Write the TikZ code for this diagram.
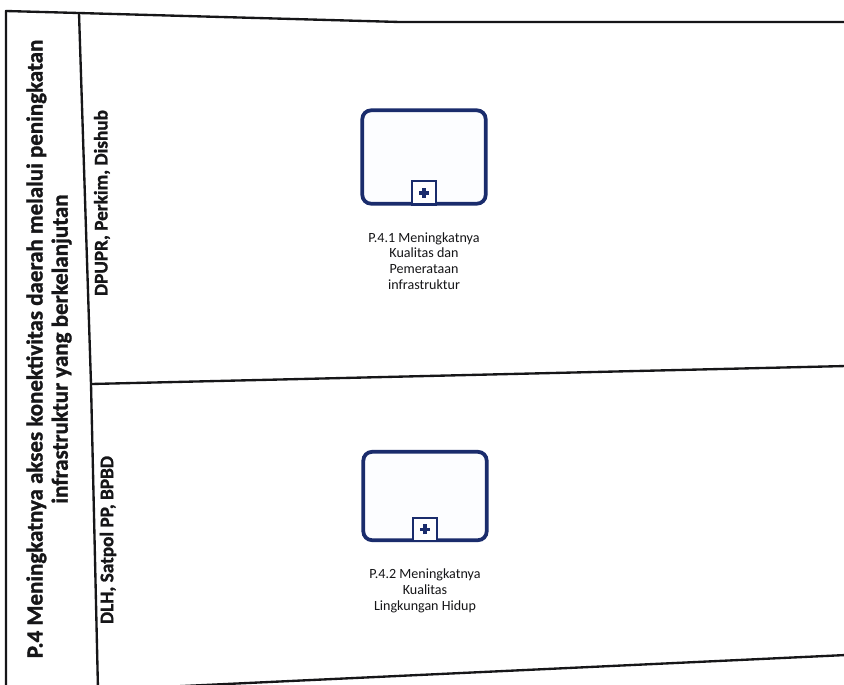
\documentclass[tikz,border=0pt]{standalone}
\usepackage{fontspec}
\setmainfont{Carlito}[BoldFeatures={FakeBold=1.2}]
\usepackage{tikz}
\usetikzlibrary{positioning}
\definecolor{ink}{RGB}{22,22,24}
\definecolor{taskdraw}{RGB}{26,44,108}
\definecolor{taskbg}{RGB}{252,253,255}
\newcommand{\TitleFont}{\fontsize{19.6}{21.5}\selectfont}
\newcommand{\LaneFont}{\fontsize{16.4}{18}\selectfont}
\newcommand{\TaskFont}{\fontsize{12}{13.4}\selectfont}
\tikzset{
  poolline/.style={draw=ink, line width=2pt, line join=round},
  pooltitle/.style={rotate=90, align=center, font=\bfseries\TitleFont, text=ink, inner sep=0pt},
  lanelabel/.style={rotate=90, font=\bfseries\LaneFont, text=ink, inner sep=0pt},
  subproc/.style={rectangle, rounded corners=2.6mm, draw=taskdraw, fill=taskbg, line width=3.2pt, minimum width=37mm, minimum height=28mm},
  plusmark/.style={rectangle, draw=taskdraw, fill=white, line width=1.8pt, minimum size=7mm, inner sep=0pt,
    path picture={\draw[taskdraw, line width=3pt] (path picture bounding box.center) ++(-1.5mm,0) -- ++(3mm,0);
      \draw[taskdraw, line width=3pt] (path picture bounding box.center) ++(0,-1.5mm) -- ++(0,3mm);}},
  tasklabel/.style={align=center, font=\TaskFont, text=ink, inner sep=0pt}
}

\begin{document}
\begin{tikzpicture}[x=0.3mm, y=-0.3mm]
  \fill[white] (0,0) rectangle (844,684);
  \useasboundingbox (0,0) rectangle (844,684);
  % pool frame
  \coordinate (poolTL) at (6,11);
  \coordinate (poolBL) at (6,690);
  \coordinate (headT) at (79,13);
  \coordinate (headM) at (91,384);
  \coordinate (headB) at (98,690);
  \coordinate (poolTR) at (846,22);
  \coordinate (laneR) at (846,366);
  \coordinate (poolBR) at (846,655);
  \draw[poolline] (poolBL) -- (poolTL) -- (headT) -- (400,22) -- (poolTR);
  \draw[poolline] (headT) -- (headM) -- (headB);
  \draw[poolline] (headM) -- (laneR);
  \draw[poolline] (headB) -- (poolBR);
  % headers
  \node[pooltitle] (pool) at (49,349) {P.4 Meningkatnya akses konektivitas daerah melalui peningkatan\\infrastruktur yang berkelanjutan};
  \node[lanelabel] (laneA) at (102,203) {DPUPR, Perkim, Dishub};
  \node[lanelabel] (laneB) at (108,540) {DLH, Satpol PP, BPBD};
  % sub-processes
  \node[subproc] (p41) at (424,157) {};
  \node[plusmark, anchor=south] (p41m) at (p41.south) {};
  \node[tasklabel, below=8mm of p41] (p41t) {P.4.1 Meningkatnya\\Kualitas dan\\Pemerataan\\infrastruktur};
  \node[subproc, minimum height=26.5mm] (p42) at (425,496) {};
  \node[plusmark, anchor=south] (p42m) at (p42.south) {};
  \node[tasklabel, below=8mm of p42] (p42t) {P.4.2 Meningkatnya\\Kualitas\\Lingkungan Hidup};
\end{tikzpicture}
\end{document}
